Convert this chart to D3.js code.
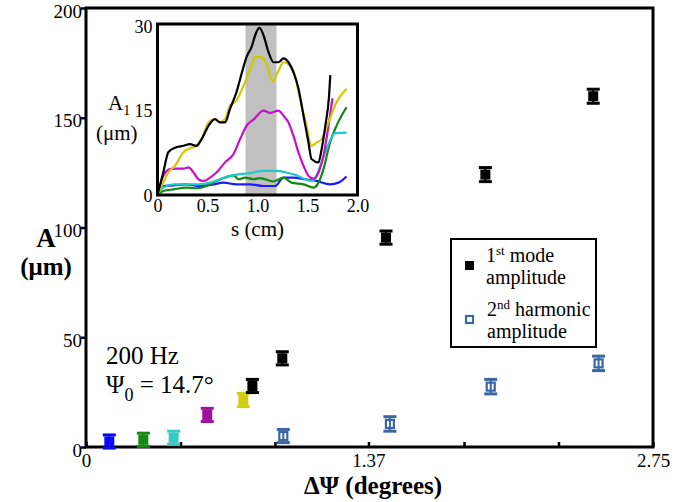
<!DOCTYPE html>
<html>
<head>
<meta charset="utf-8">
<script src="https://cdn.jsdelivr.net/npm/d3@7"></script>
<style>
  html, body { margin: 0; padding: 0; background: #fff; }
  svg { display: block; }
</style>
</head>
<body>
<svg id="chart" width="698" height="502"></svg>
<script>
// First-mode amplitude versus misalignment angle (colour marks the matching inset trace)
const deltaPsi  = [0.113, 0.278, 0.425, 0.588, 0.763, 0.807, 0.952, 1.455, 1.937, 2.460];
const modeAmp   = [2.5, 3.3, 4.2, 14.6, 21.4, 27.8, 40.4, 95.4, 124.1, 159.8];
const modeErr   = [3.0, 3.0, 3.0, 3.0, 3.0, 3.0, 3.0, 3.0, 3.2, 3.2];
const modeColor = ["#0a0aff", "#138a13", "#38c8c8", "#a0109f", "#d2cc10",
                   "#000000", "#000000", "#000000", "#000000", "#000000"];

// Second-harmonic amplitude
const harmPsi = [0.957, 1.474, 1.963, 2.486];
const harmAmp = [5.0, 10.5, 27.5, 38.1];
const harmErr = [3.0, 3.3, 3.3, 3.3];

// Axis ticks
const xTicks = [0, 2.75 / 6, 2 * 2.75 / 6, 1.37, 4 * 2.75 / 6, 5 * 2.75 / 6, 2.75];
const xTickLabels = ["0", "", "", "1.37", "", "", "2.75"];
const yTicks = [0, 50, 100, 150, 200];
const insetXTicks = [0, 0.5, 1.0, 1.5, 2.0];
const insetYTicks = [0, 15, 30];

// Inset: first-mode amplitude profile along s for each misalignment
const traceBlue = [[0,0],[0.058,1.6],[0.16,1.7],[0.29,1.9],[0.42,1.6],[0.56,1.9],[0.66,2.2],[0.79,1.9],
  [0.925,1.9],[1.06,1.6],[1.175,1.6],[1.26,3.1],[1.36,3.1],[1.475,2.8],[1.59,2.5],[1.725,1.9],[1.81,2.2],[1.89,3.3]];
const traceGreen = [[0,0],[0.058,0.7],[0.16,1.0],[0.29,1.3],[0.39,1.2],[0.49,1.6],[0.59,2.5],[0.675,3.1],
  [0.76,3.5],[0.81,2.8],[0.875,3.1],[0.96,2.8],[1.025,3.0],[1.16,2.4],[1.26,3.1],[1.34,2.2],[1.46,1.9],
  [1.56,1.3],[1.61,2.2],[1.66,4.6],[1.725,9.3],[1.79,12.3],[1.89,15.6]];
const traceCyan = [[0,0],[0.058,1.3],[0.16,1.9],[0.29,1.9],[0.42,1.9],[0.525,2.2],[0.625,2.8],[0.725,3.4],
  [0.825,3.7],[0.925,3.9],[1.06,4.3],[1.19,4.3],[1.29,4.0],[1.39,3.5],[1.475,2.8],[1.54,2.5],[1.59,3.4],
  [1.64,5.8],[1.71,9.05],[1.775,11.0],[1.89,11.1]];
const traceMagenta = [[0,0],[0.058,3.4],[0.125,4.6],[0.19,4.7],[0.26,4.7],[0.31,4.9],[0.36,4.0],[0.41,2.8],
  [0.46,2.5],[0.525,3.1],[0.59,4.0],[0.675,5.8],[0.76,7.3],[0.825,9.9],[0.89,12.3],[0.96,13.4],[1.06,15.0],
  [1.125,14.6],[1.21,15.0],[1.26,14.1],[1.31,12.9],[1.36,10.5],[1.41,7.55],[1.46,5.2],[1.51,3.4],[1.56,2.9],
  [1.61,4.0],[1.66,7.0],[1.71,12.3],[1.75,17.2]];
const traceYellow = [[0,0],[0.058,2.2],[0.108,4.0],[0.175,5.2],[0.26,7.6],[0.34,8.4],[0.39,8.75],[0.44,9.9],
  [0.51,12.9],[0.575,13.5],[0.625,12.9],[0.675,13.5],[0.725,15.9],[0.79,16.8],[0.84,18.6],[0.89,20.7],
  [0.94,23.0],[0.975,24.5],[1.04,24.5],[1.09,23.3],[1.15,20.2],[1.21,22.1],[1.26,23.6],[1.325,23.0],
  [1.375,21.25],[1.425,17.1],[1.49,12.3],[1.54,8.75],[1.59,9.3],[1.64,9.9],[1.71,12.9],[1.79,16.5],[1.89,18.9]];
const traceBlack = [[0,0],[0.058,4.0],[0.108,7.6],[0.175,8.4],[0.26,8.75],[0.325,9.05],[0.39,8.75],[0.44,9.9],
  [0.51,12.3],[0.575,13.5],[0.625,12.9],[0.675,12.9],[0.725,15.3],[0.79,18.3],[0.84,21.5],[0.89,24.5],
  [0.94,26.3],[0.99,29.0],[1.02,29.7],[1.06,28.4],[1.11,25.4],[1.16,23.6],[1.21,23.6],[1.26,24.3],
  [1.31,23.6],[1.36,21.8],[1.41,18.9],[1.46,14.1],[1.51,9.3],[1.54,6.4],[1.61,5.8],[1.64,8.0],
  [1.68,12.5],[1.715,17.5],[1.728,21.3]];
const traces = [
  { pts: traceBlue, color: "#1a1aff" },
  { pts: traceGreen, color: "#128a12" },
  { pts: traceCyan, color: "#22c8c8" },
  { pts: traceMagenta, color: "#c810c8" },
  { pts: traceYellow, color: "#d0c800" },
  { pts: traceBlack, color: "#000000" }
];
const shadedBand = [0.88, 1.19];

const FONT = "Liberation Serif";
const svg = d3.select("#chart");

// ---------- main panel ----------
const x = d3.scaleLinear().domain([0, 2.75]).range([86, 653]);
const y = d3.scaleLinear().domain([0, 200]).range([447, 8]);

svg.append("rect")
  .attr("x", x(0)).attr("y", y(200))
  .attr("width", x(2.75) - x(0)).attr("height", y(0) - y(200))
  .attr("fill", "none").attr("stroke", "#000").attr("stroke-width", 3);

const xAxis = svg.append("g")
  .attr("transform", `translate(0,${y(0)})`)
  .call(d3.axisBottom(x).tickValues(xTicks).tickSize(-5).tickSizeOuter(0)
    .tickFormat((d, i) => xTickLabels[i]));
xAxis.select(".domain").remove();
xAxis.selectAll(".tick line").attr("stroke", "#000").attr("stroke-width", 2.5);
xAxis.selectAll(".tick text").attr("font-size", 19).attr("fill", "#000")
  .attr("dy", "0.85em").attr("y", 4);

const yAxis = svg.append("g")
  .attr("transform", `translate(${x(0)},0)`)
  .call(d3.axisLeft(y).tickValues(yTicks).tickSize(5).tickSizeOuter(0));
yAxis.select(".domain").remove();
yAxis.selectAll(".tick line").attr("stroke", "#000").attr("stroke-width", 2.5);
yAxis.selectAll(".tick text").attr("font-size", 19).attr("fill", "#000")
  .attr("x", -4).attr("y", 3).attr("dy", "0.32em");

// axis titles
svg.append("text").attr("x", 373).attr("y", 494)
  .attr("text-anchor", "middle").attr("font-weight", "bold").attr("font-size", 25)
  .text("ΔΨ (degrees)");
svg.append("text").attr("x", 46).attr("y", 247)
  .attr("text-anchor", "middle").attr("font-weight", "bold").attr("font-size", 27)
  .text("A");
svg.append("text").attr("x", 46).attr("y", 275)
  .attr("text-anchor", "middle").attr("font-weight", "bold").attr("font-size", 25)
  .text("(μm)");

// annotation
svg.append("text").attr("x", 106).attr("y", 364).attr("font-size", 25).text("200 Hz");
const psiLabel = svg.append("text").attr("x", 106).attr("y", 393).attr("font-size", 25);
psiLabel.append("tspan").text("Ψ");
psiLabel.append("tspan").attr("font-size", 18).attr("dy", 8).text("0");
psiLabel.append("tspan").attr("dy", -8).text(" = 14.7°");

// error-bar markers
const capW = 13, sq = 10;
function errMarker(g, cx, cy, lo, hi, color, filled) {
  g.append("line").attr("x1", cx).attr("x2", cx).attr("y1", lo).attr("y2", hi)
    .attr("stroke", color).attr("stroke-width", 2);
  g.append("line").attr("x1", cx - capW / 2).attr("x2", cx + capW / 2).attr("y1", lo).attr("y2", lo)
    .attr("stroke", color).attr("stroke-width", 3);
  g.append("line").attr("x1", cx - capW / 2).attr("x2", cx + capW / 2).attr("y1", hi).attr("y2", hi)
    .attr("stroke", color).attr("stroke-width", 3);
  if (filled) {
    g.append("rect").attr("x", cx - sq / 2).attr("y", cy - sq / 2).attr("width", sq).attr("height", sq)
      .attr("fill", color);
  } else {
    g.append("rect").attr("x", cx - (sq - 2) / 2).attr("y", cy - (sq - 2) / 2)
      .attr("width", sq - 2).attr("height", sq - 2)
      .attr("fill", "none").attr("stroke", color).attr("stroke-width", 2.2);
  }
}

const marks = svg.append("g");
deltaPsi.forEach((d, i) => {
  errMarker(marks, x(d), y(modeAmp[i]), y(modeAmp[i] + modeErr[i]), y(modeAmp[i] - modeErr[i]),
    modeColor[i], true);
});
harmPsi.forEach((d, i) => {
  errMarker(marks, x(d), y(harmAmp[i]), y(harmAmp[i] + harmErr[i]), y(harmAmp[i] - harmErr[i]),
    "#3a67a3", false);
});

// legend
const lg = svg.append("g");
lg.append("rect").attr("x", 451).attr("y", 239).attr("width", 145).attr("height", 108)
  .attr("fill", "#fff").attr("stroke", "#000").attr("stroke-width", 2);
lg.append("rect").attr("x", 465).attr("y", 261).attr("width", 9).attr("height", 9).attr("fill", "#000");
lg.append("rect").attr("x", 466).attr("y", 316).attr("width", 7).attr("height", 7)
  .attr("fill", "none").attr("stroke", "#3a67a3").attr("stroke-width", 2.2);
const l1 = lg.append("text").attr("x", 486).attr("y", 262).attr("font-size", 20);
l1.append("tspan").text("1");
l1.append("tspan").attr("font-size", 13).attr("dy", -7).text("st");
l1.append("tspan").attr("dy", 7).text(" mode");
lg.append("text").attr("x", 486).attr("y", 284).attr("font-size", 20).text("amplitude");
const l2 = lg.append("text").attr("x", 487).attr("y", 316).attr("font-size", 20);
l2.append("tspan").text("2");
l2.append("tspan").attr("font-size", 13).attr("dy", -7).text("nd");
l2.append("tspan").attr("dy", 7).text(" harmonic");
lg.append("text").attr("x", 487).attr("y", 338).attr("font-size", 20).text("amplitude");

// ---------- inset ----------
const xi = d3.scaleLinear().domain([0, 2]).range([157.5, 357.5]);
const yi = d3.scaleLinear().domain([0, 30.4]).range([195, 24]);

const inset = svg.append("g");
inset.append("rect").attr("x", xi(0)).attr("y", yi(30.4))
  .attr("width", xi(2) - xi(0)).attr("height", yi(0) - yi(30.4)).attr("fill", "#fff");
inset.append("rect").attr("x", xi(shadedBand[0])).attr("y", yi(30.4))
  .attr("width", xi(shadedBand[1]) - xi(shadedBand[0])).attr("height", yi(0) - yi(30.4))
  .attr("fill", "#c0c0c0");

const line = d3.line().x(d => xi(d[0])).y(d => yi(d[1])).curve(d3.curveMonotoneX);
inset.selectAll("path.trace").data(traces).join("path")
  .attr("class", "trace")
  .attr("d", d => line(d.pts))
  .attr("fill", "none").attr("stroke", d => d.color).attr("stroke-width", 2.2)
  .attr("stroke-linejoin", "round");

inset.append("rect").attr("x", xi(0)).attr("y", yi(30.4))
  .attr("width", xi(2) - xi(0)).attr("height", yi(0) - yi(30.4))
  .attr("fill", "none").attr("stroke", "#000").attr("stroke-width", 3);

const ixAxis = inset.append("g").attr("transform", `translate(0,${yi(0)})`)
  .call(d3.axisBottom(xi).tickValues(insetXTicks).tickSize(0).tickFormat(d3.format(".1f")));
ixAxis.select(".domain").remove();
ixAxis.selectAll(".tick text").attr("font-size", 18).attr("fill", "#000")
  .attr("y", 3).attr("dy", "0.8em");
ixAxis.selectAll(".tick text").filter(d => d === 0).text("0");

const iyAxis = inset.append("g").attr("transform", `translate(${xi(0)},0)`)
  .call(d3.axisLeft(yi).tickValues(insetYTicks).tickSize(0).tickFormat(d3.format("d")));
iyAxis.select(".domain").remove();
iyAxis.selectAll(".tick text").attr("font-size", 18).attr("fill", "#000")
  .attr("x", -5).attr("dy", "0.35em");

inset.append("text").attr("x", xi(1)).attr("y", 236).attr("text-anchor", "middle")
  .attr("font-size", 21).text("s (cm)");
const a1 = inset.append("text").attr("x", 108).attr("y", 110).attr("font-size", 21);
a1.append("tspan").text("A");
a1.append("tspan").attr("font-size", 14).attr("dy", 5).text("1");
inset.append("text").attr("x", 96).attr("y", 140).attr("font-size", 21).text("(μm)");

// serif face for every label
svg.selectAll("g").attr("font-family", FONT);
svg.selectAll("text").attr("font-family", FONT).style("font-family", FONT);
</script>
</body>
</html>
